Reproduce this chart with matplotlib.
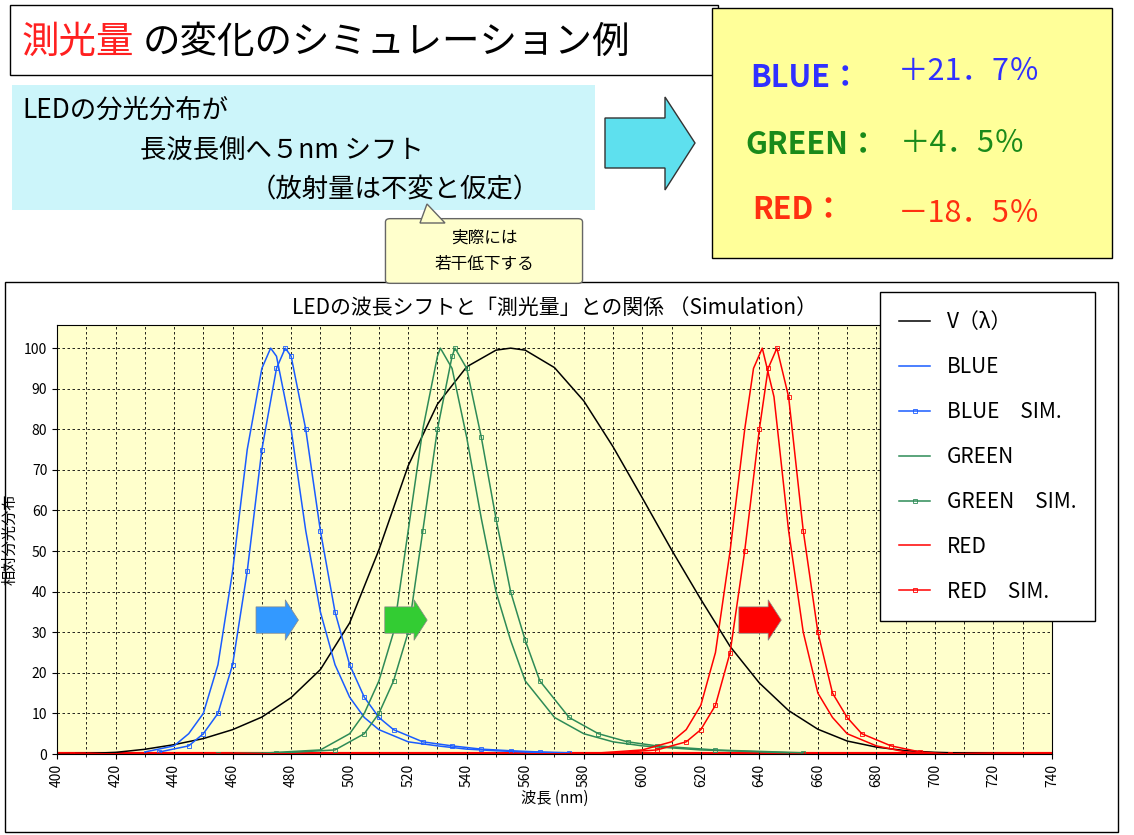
import matplotlib
matplotlib.use("Agg")
import matplotlib.pyplot as plt
from matplotlib.patches import Rectangle, FancyArrow, FancyBboxPatch, Polygon
import numpy as np

plt.rcParams["font.family"] = ["Noto Sans CJK JP", "DejaVu Sans"]

# V(lambda) photopic curve (relative %)
v_wl = [400, 410, 420, 430, 440, 450, 460, 470, 480, 490, 500, 510, 520, 530, 540, 550, 555,
        560, 570, 580, 590, 600, 610, 620, 630, 640, 650, 660, 670, 680, 690, 700, 710, 720, 730, 740]
v_val = [0.04, 0.12, 0.4, 1.16, 2.3, 3.8, 6.0, 9.1, 13.9, 20.8, 32.3, 50.3, 71.0, 86.2, 95.4, 99.5, 100,
         99.5, 95.2, 87.0, 75.7, 63.1, 50.3, 38.1, 26.5, 17.5, 10.7, 6.1, 3.2, 1.7, 0.82, 0.41, 0.21, 0.1, 0.05, 0.03]

blue_wl = [430, 440, 445, 450, 455, 460, 465, 470, 473, 475, 480, 485, 490, 495, 500, 505, 510, 520, 530, 540, 550, 560, 570]
blue_val = [0.5, 2, 5, 10, 22, 45, 75, 95, 100, 98, 80, 55, 35, 22, 14, 9, 6, 3, 2, 1.2, 0.8, 0.5, 0.3]

green_wl = [450, 470, 490, 500, 505, 510, 515, 520, 525, 530, 531, 535, 540, 545, 550, 555, 560,
            570, 580, 590, 600, 620, 650]
green_val = [0, 0.2, 1, 5, 10, 18, 30, 55, 80, 98, 100, 95, 78, 58, 40, 28, 18, 9, 5, 3, 2, 1, 0.3]

red_wl = [400, 580, 600, 610, 615, 620, 625, 630, 635, 638, 641, 645, 650, 655, 660, 665, 670, 680, 690, 700, 740]
red_val = [0, 0, 1, 3, 6, 12, 25, 50, 80, 95, 100, 88, 55, 30, 15, 9, 5, 2, 0.5, 0, 0]

shift_nm = 5
blue_c, green_c, red_c = "#1a5cff", "#2e8b57", "#ff0000"

fig = plt.figure(figsize=(11.34, 8.35), dpi=100)


def fx(px):
    return px / 1134


def fy(py):
    return 1 - py / 835


def add_patch(p, z=0):
    p.set_zorder(z)
    fig.patches.append(p)


# --- header ---
add_patch(Rectangle((fx(10), fy(75)), fx(708), 70 / 835, transform=fig.transFigure,
                    facecolor="white", edgecolor="black", lw=1))
fig.text(fx(22), fy(42), "測光量", color="#ff2020", fontsize=27, va="center")
fig.text(fx(143), fy(42), "の変化のシミュレーション例", color="black", fontsize=27, va="center")

add_patch(Rectangle((fx(12), fy(210)), fx(583), 125 / 835, transform=fig.transFigure,
                    facecolor="#ccf5fa", edgecolor="none"))
fig.text(fx(22), fy(110), "LEDの分光分布が", fontsize=19, va="center")
fig.text(fx(140), fy(150), "長波長側へ５nm シフト", fontsize=19, va="center")
fig.text(fx(250), fy(190), "（放射量は不変と仮定）", fontsize=19, va="center")

add_patch(Polygon([(fx(605), fy(118)), (fx(665), fy(118)), (fx(665), fy(97)),
                   (fx(695), fy(143)), (fx(665), fy(190)), (fx(665), fy(168)),
                   (fx(605), fy(168))], closed=True, transform=fig.transFigure,
                  facecolor="#5ee0ee", edgecolor="#333333", lw=1))

add_patch(Rectangle((fx(712), fy(258)), fx(400), 250 / 835, transform=fig.transFigure,
                    facecolor="#ffff99", edgecolor="black", lw=1))
fig.text(fx(750), fy(78), "BLUE：", color="#3030ff", fontsize=22, fontweight="bold", va="center")
fig.text(fx(898), fy(72), "＋21．7％", color="#3030ff", fontsize=22, va="center")
fig.text(fx(745), fy(145), "GREEN：", color="#1a8a1a", fontsize=22, fontweight="bold", va="center")
fig.text(fx(900), fy(143), "＋4．5％", color="#1a8a1a", fontsize=22, va="center")
fig.text(fx(752), fy(210), "RED：", color="#ff3010", fontsize=22, fontweight="bold", va="center")
fig.text(fx(898), fy(213), "－18．5％", color="#ff3010", fontsize=22, va="center")

add_patch(FancyBboxPatch((fx(390), fy(280)), fx(188), 58 / 835, transform=fig.transFigure,
                         boxstyle="round,pad=0.004", facecolor="#ffffcc", edgecolor="#666666", lw=1))
add_patch(Polygon([(fx(420), fy(223)), (fx(427), fy(204)), (fx(445), fy(223))],
                  transform=fig.transFigure, facecolor="#ffffcc", edgecolor="#666666", lw=1))
fig.text(fx(484), fy(238), "実際には", fontsize=12, ha="center", va="center")
fig.text(fx(484), fy(265), "若干低下する", fontsize=12, ha="center", va="center")

# --- chart ---
add_patch(Rectangle((fx(5), fy(832)), fx(1113), 550 / 835, transform=fig.transFigure,
                    facecolor="white", edgecolor="black", lw=1), z=-5)
ax = fig.add_axes([fx(57), fy(754), fx(995), 429 / 835])
ax.set_zorder(2)
ax.set_facecolor("#ffffcc")
ax.plot(v_wl, v_val, color="black", lw=1.1, label="V（λ）")
ax.plot(blue_wl, blue_val, color=blue_c, lw=1.1, label="BLUE")
ax.plot(np.array(blue_wl) + shift_nm, blue_val, color=blue_c, lw=1.1, marker="s", ms=2.5,
        mfc="none", mew=0.6, label="BLUE　SIM.")
ax.plot(green_wl, green_val, color=green_c, lw=1.1, label="GREEN")
ax.plot(np.array(green_wl) + shift_nm, green_val, color=green_c, lw=1.1, marker="s", ms=2.5,
        mfc="none", mew=0.6, label="GREEN　SIM.")
ax.plot(red_wl, red_val, color=red_c, lw=1.1, label="RED")
ax.plot(np.array(red_wl) + shift_nm, red_val, color=red_c, lw=1.1, marker="s", ms=2.5,
        mfc="none", mew=0.6, label="RED　SIM.")
ax.plot([400, 740], [0, 0], color=red_c, lw=3, zorder=1)

ax.set_xlim(400, 740)
ax.set_ylim(0, 105.7)
ax.set_xticks(range(400, 741, 20))
ax.set_xticks(range(400, 741, 10), minor=True)
ax.set_yticks(range(0, 101, 10))
ax.tick_params(labelsize=10)
ax.grid(True, which="both", axis="x", color="black", ls=(0, (3, 3)), lw=0.6)
ax.grid(True, axis="y", color="black", ls=(0, (3, 3)), lw=0.6)
for t in ax.get_xticklabels():
    t.set_rotation(90)
ax.set_xlabel("波長 (nm)", fontsize=11, labelpad=2)
ax.set_ylabel("相対分光分布", fontsize=11, labelpad=4)
ax.set_title("LEDの波長シフトと「測光量」との関係 （Simulation）", fontsize=15, pad=8)

for x0, c in [(468, "#3399ff"), (512, "#33cc33"), (633, "#ff0000")]:
    ax.add_patch(FancyArrow(x0, 33, 10, 0, width=6.5, head_width=10, head_length=4.5,
                            length_includes_head=False, color=c, ec="#888888", lw=0.5, zorder=5))

leg = fig.legend(loc="upper left", bbox_to_anchor=(fx(870), fy(282)), fontsize=15,
                 frameon=True, fancybox=False, edgecolor="black", labelspacing=1.1,
                 handlelength=1.5, borderpad=0.9, framealpha=1)
leg.get_frame().set_linewidth(1)
leg.set_zorder(10)

fig.savefig("out.png", dpi=100)
